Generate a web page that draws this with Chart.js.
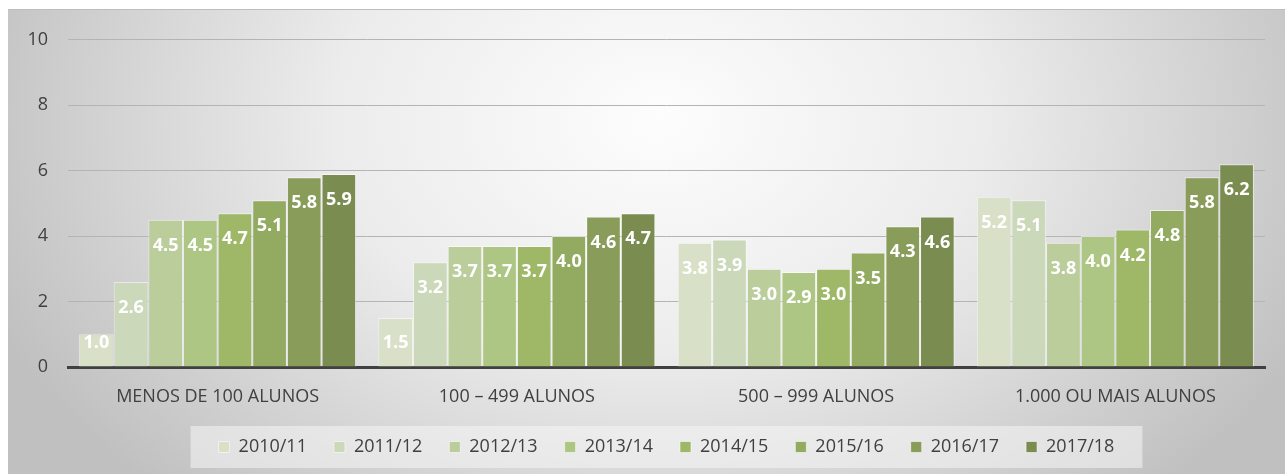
<!DOCTYPE html>
<html>
<head>
<meta charset="utf-8">
<script src="https://cdn.jsdelivr.net/npm/chart.js@4/dist/chart.umd.min.js"></script>
<style>
  html, body { margin: 0; padding: 0; background: #ffffff; }
  #wrap { position: absolute; left: 8px; top: 9px; width: 1277px; height: 465px; }
</style>
</head>
<body>
<div id="wrap"><canvas id="grafico"></canvas></div>
<script>
var categorias = ['MENOS DE 100 ALUNOS', '100 – 499 ALUNOS', '500 – 999 ALUNOS', '1.000 OU MAIS ALUNOS'];
var anos = ['2010/11', '2011/12', '2012/13', '2013/14', '2014/15', '2015/16', '2016/17', '2017/18'];
var v_2010_11 = [1.0, 1.5, 3.8, 5.2];
var v_2011_12 = [2.6, 3.2, 3.9, 5.1];
var v_2012_13 = [4.5, 3.7, 3.0, 3.8];
var v_2013_14 = [4.5, 3.7, 2.9, 4.0];
var v_2014_15 = [4.7, 3.7, 3.0, 4.2];
var v_2015_16 = [5.1, 4.0, 3.5, 4.8];
var v_2016_17 = [5.8, 4.6, 4.3, 5.8];
var v_2017_18 = [5.9, 4.7, 4.6, 6.2];
var valores = [v_2010_11, v_2011_12, v_2012_13, v_2013_14, v_2014_15, v_2015_16, v_2016_17, v_2017_18];
var cores = ['#d8e1c8', '#cbd8b9', '#bccd9c', '#adc683', '#9fb868', '#93aa61', '#8a9c5a', '#7a8c50'];

var fonte = '"Open Sans", "DejaVu Sans", sans-serif';

var datasets = [];
for (var i = 0; i < anos.length; i++) {
    datasets.push({
        label: anos[i],
        data: valores[i],
        backgroundColor: cores[i],
        borderColor: 'rgba(255,255,255,0.55)',
        borderWidth: 1,
        categoryPercentage: 0.926,
        barPercentage: 1.0
    });
}

// fundo com degradê radial
var fundo = {
    id: 'fundo',
    beforeDraw: function(chart) {
        var ctx = chart.ctx;
        var w = chart.width, h = chart.height;
        ctx.save();
        ctx.translate(650, 110);
        ctx.scale(1, 0.72);
        var g = ctx.createRadialGradient(0, 0, 0, 0, 0, 720);
        g.addColorStop(0, '#fdfdfd');
        g.addColorStop(0.45, '#ececec');
        g.addColorStop(1, '#c0c0c0');
        ctx.fillStyle = g;
        ctx.fillRect(-650, -110 / 0.72, w, h / 0.72);
        ctx.restore();
        ctx.fillStyle = '#bdbdbd';
        ctx.fillRect(0, 0, w, 1);

        // caixa da legenda
        var lg = chart.legend;
        if (lg && lg.legendHitBoxes && lg.legendHitBoxes.length) {
            var hb = lg.legendHitBoxes;
            var x0 = hb[0].left - 28;
            var x1 = hb[hb.length - 1].left + hb[hb.length - 1].width + 28;
            var cy = hb[0].top + hb[0].height / 2;
            ctx.fillStyle = 'rgba(245,245,245,0.55)';
            ctx.fillRect(x0, cy - 21, x1 - x0, 42);
        }
    }
};

// rótulos de dados
var rotulos = {
    id: 'rotulos',
    afterDatasetsDraw: function(chart) {
        var ctx = chart.ctx;
        var base = chart.scales.y.getPixelForValue(0);
        ctx.save();
        ctx.fillStyle = '#ffffff';
        ctx.font = 'bold 18px ' + fonte;
        ctx.textAlign = 'center';
        ctx.textBaseline = 'middle';
        chart.data.datasets.forEach(function(ds, di) {
            var meta = chart.getDatasetMeta(di);
            meta.data.forEach(function(bar, j) {
                var y = Math.min(bar.y + 26, base - 24);
                ctx.fillText(ds.data[j].toFixed(1), bar.x, y);
            });
        });
        ctx.restore();
    }
};

var ctx = document.getElementById('grafico').getContext('2d');
window.myBar = new Chart(ctx, {
    type: 'bar',
    data: { labels: categorias, datasets: datasets },
    plugins: [fundo, rotulos],
    options: {
        responsive: true,
        maintainAspectRatio: false,
        animation: false,
        layout: { padding: { top: 20, right: 20, left: 0, bottom: 8 } },
        plugins: {
            legend: {
                position: 'bottom',
                fullSize: false,
                labels: {
                    boxWidth: 11,
                    boxHeight: 11,
                    padding: 27,
                    color: '#404040',
                    font: { family: fonte, size: 18 }
                }
            },
            tooltip: { enabled: false }
        },
        scales: {
            x: {
                grid: { display: false, drawTicks: false },
                border: { display: true, color: '#404040', width: 3 },
                ticks: { color: '#404040', padding: 19, font: { family: fonte, size: 18 } },
                afterFit: function(s) { s.height = 44; }
            },
            y: {
                min: 0,
                max: 10,
                ticks: { stepSize: 2, color: '#404040', padding: 20, font: { family: fonte, size: 18 } },
                grid: { color: '#b4b4b4', lineWidth: 1, drawTicks: false },
                border: { display: false },
                afterFit: function(s) { s.width = 60; }
            }
        }
    }
});
</script>
</body>
</html>
